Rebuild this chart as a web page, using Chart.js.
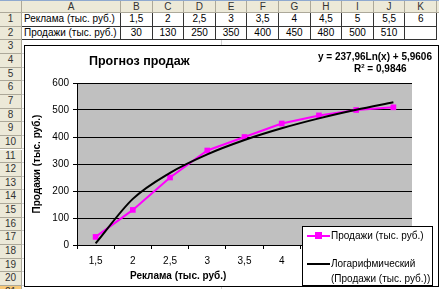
<!DOCTYPE html>
<html><head><meta charset="utf-8">
<script src="https://cdn.jsdelivr.net/npm/chart.js@4/dist/chart.umd.min.js"></script>
<style>
html,body{margin:0;padding:0;background:#fff;}
body{width:439px;height:289px;overflow:hidden;position:relative;font-family:Arial,"Liberation Sans",sans-serif;color:#000;}
.a{position:absolute;box-sizing:border-box;white-space:nowrap;}
.hdr{background:#ece9d8;border-right:1px solid #aca899;border-bottom:1px solid #aca899;color:#333;font-size:10px;text-align:center;}
.cell{border-right:1px solid #333;border-bottom:1px solid #333;font-size:10px;text-align:center;}
.pale{border-right:1px solid #d0d0d0;border-bottom:1px solid #d0d0d0;}
#chartBox{position:absolute;left:24px;top:45px;width:415px;height:242px;border:1px solid #000;background:#fff;box-sizing:border-box;}
#c{position:absolute;left:0;top:0;}
.txt{position:absolute;white-space:nowrap;line-height:1;}
</style></head><body>
<div id="sheet"></div>
<div id="chartBox"><canvas id="c" width="413" height="240"></canvas></div>
<div class="txt" id="ttl" style="left:89px;top:55px;font-weight:bold;font-size:12.5px;">Прогноз продаж</div>
<div class="txt" id="eq1" style="right:7px;top:52px;font-weight:bold;font-size:10px;">y = 237,96Ln(x) + 5,9606</div>
<div class="txt" id="eq2" style="left:354px;top:64px;font-weight:bold;font-size:10px;">R<sup style="font-size:6px;vertical-align:4px;line-height:0">2</sup> = 0,9846</div>
<div class="txt" id="xt" style="left:130px;top:271px;font-weight:bold;font-size:10px;">Реклама (тыс. руб.)</div>
<div id="legend" class="a" style="left:302px;top:226px;width:131px;height:60px;border:1px solid #000;background:#fff;">
  <div class="a" style="left:4px;top:8px;width:23px;height:2px;background:#ff00ff;"></div>
  <div class="a" style="left:12px;top:5px;width:7px;height:7px;background:#ff00ff;"></div>
  <div class="txt" id="lg1" style="left:28px;top:4px;font-size:10px;"></div>
  <div class="a" style="left:4px;top:36px;width:23px;height:2px;background:#000;"></div>
  <div class="txt" id="lg2" style="left:28px;top:32px;font-size:10px;"></div>
  <div class="txt" id="lg3" style="left:28px;top:47px;font-size:10px;"></div>
</div>
<script>
// ---- data ----
const categories = ['1,5','2','2,5','3','3,5','4','4,5','5','5,5'];
const sales = [30,130,250,350,400,450,480,500,510];
const trend = [5.96,170.9,267.4,335.8,388.9,432.3,469.0,500.8,528.8];
const forecastAd = '6';
const rowLabelAd = 'Реклама (тыс. руб.)';
const rowLabelSales = 'Продажи (тыс. руб.)';
const trendLabel = 'Логарифмический';
const colLetters = ['A','B','C','D','E','F','G','H','I','J','K'];
const yMin = 0, yMax = 600, yStep = 100;

// ---- spreadsheet ----
const sheet = document.getElementById('sheet');
function box(cls, l, t, w, h, text, extra){
  const d = document.createElement('div');
  d.className = 'a ' + cls;
  d.style.left = l+'px'; d.style.top = t+'px'; d.style.width = w+'px'; d.style.height = h+'px';
  d.style.lineHeight = (h-1)+'px';
  if (extra) Object.assign(d.style, extra);
  if (text !== undefined) d.textContent = text;
  sheet.appendChild(d);
  return d;
}
const topLine = document.createElement('div');
topLine.className='a'; Object.assign(topLine.style,{left:'0px',top:'0px',width:'439px',height:'1px',background:'#8fa9cf'});
sheet.appendChild(topLine);
const colEdges = [0,22,121];
for (let i=1;i<=11;i++) colEdges.push(121 + i*31.6);
const hdrTop = 1, hdrH = 12, rowH = 13.65, row1Top = 13;
box('hdr',0,hdrTop,22,hdrH,'');
for (let c=0;c<colLetters.length;c++){
  box('hdr',colEdges[c+1],hdrTop,colEdges[c+2]-colEdges[c+1],hdrH,colLetters[c]);
}
box('hdr',colEdges[12],hdrTop,439-colEdges[12]+2,hdrH,'');
for (let r=1;r<=21;r++){
  const t = row1Top + (r-1)*rowH;
  const ex = r===21 ? {background:'#f8c978'} : null;
  box('hdr',0,t,22,rowH,String(r),ex);
  if (r<=2){
    const vals = r===1 ? [rowLabelAd].concat(categories, [forecastAd]) : [rowLabelSales].concat(sales.map(String), ['']);
    for (let c=0;c<11;c++){
      const el = box('cell',colEdges[c+1],t,colEdges[c+2]-colEdges[c+1],rowH,vals[c]);
      if (c===0){ el.style.textAlign='left'; el.style.paddingLeft='2px'; }
    }
  } else {
    box('pale',22,t,200,rowH,'');
  }
}
document.getElementById('lg1').textContent = rowLabelSales;
document.getElementById('lg2').textContent = trendLabel;
document.getElementById('lg3').textContent = '(' + rowLabelSales + ')';

// ---- chart ----
const plotBg = {
  id:'plotBg',
  beforeDraw(chart){
    const {ctx, chartArea:a} = chart;
    ctx.save(); ctx.fillStyle = '#c0c0c0';
    ctx.fillRect(a.left, a.top, a.right-a.left, a.bottom-a.top);
    ctx.restore();
  }
};
const font = {family:'Arial, "Liberation Sans", sans-serif', size:10};
new Chart(document.getElementById('c'), {
  type:'line',
  data:{
    labels: categories,
    datasets:[
      {label: trendLabel + ' (' + rowLabelSales + ')', data: trend, borderColor:'#000', borderWidth:2,
       pointRadius:0, cubicInterpolationMode:'monotone', fill:false, order:0},
      {label: rowLabelSales, data: sales, borderColor:'#ff00ff', backgroundColor:'#ff00ff', borderWidth:2,
       pointStyle:'rect', pointRadius:4, pointBorderWidth:0, tension:0, fill:false, order:1}
    ]
  },
  options:{
    responsive:false, animation:false, devicePixelRatio:1,
    layout:{padding:{left:0,top:37,right:26,bottom:0}},
    plugins:{legend:{display:false}, title:{display:false}, tooltip:{enabled:false}},
    scales:{
      x:{
        type:'category', offset:true,
        grid:{display:true, offset:true, drawOnChartArea:false, color:'#000', tickLength:4, tickColor:'#000'},
        border:{display:true, color:'#000', width:1},
        ticks:{color:'#000', font, padding:6, autoSkip:false, maxRotation:0},
        afterFit(s){ s.height = 41; }
      },
      y:{
        min:yMin, max:yMax,
        grid:{display:true, color:'#000', tickLength:4, tickColor:'#000'},
        border:{display:true, color:'#000', width:1},
        ticks:{stepSize:yStep, color:'#000', font, padding:4},
        title:{display:true, text: rowLabelSales, color:'#000', font:{family:font.family, size:10, weight:'bold'}, padding:{top:6,bottom:0}},
        afterFit(s){ s.width = 52; }
      }
    }
  },
  plugins:[plotBg]
});
</script>
</body></html>
